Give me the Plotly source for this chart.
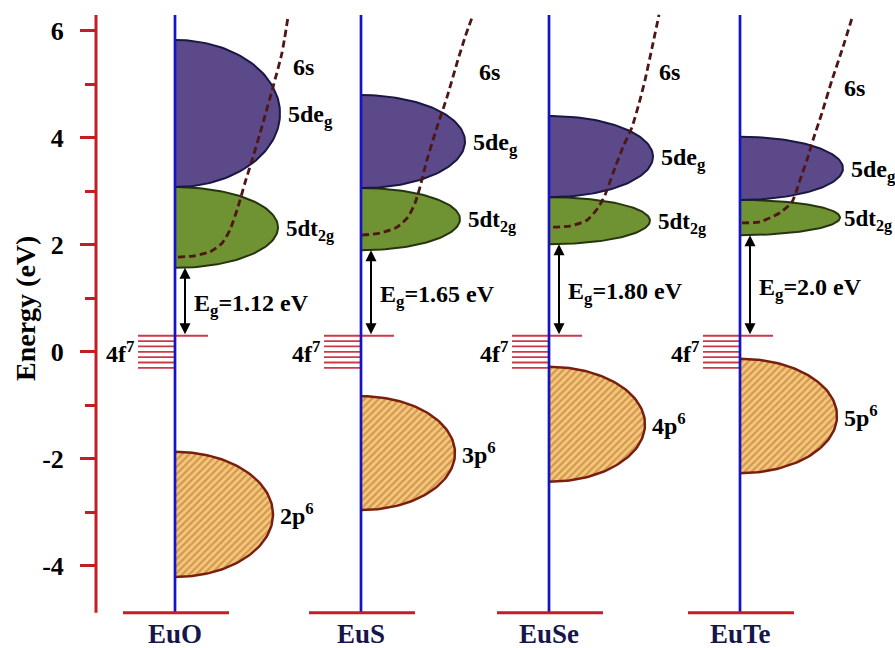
import numpy as np
import plotly.graph_objects as go

# ---------------- data (energies in eV) ----------------
compounds = ["EuO", "EuS", "EuSe", "EuTe"]
gap_values = ["1.12", "1.65", "1.80", "2.0"]
eg_top = [5.83, 4.80, 4.41, 4.02]          # top of 5d e_g band
eg_bottom = [3.08, 3.06, 2.89, 2.84]       # bottom of 5d e_g band = top of 5d t2g
t2g_bottom = [1.57, 1.90, 2.01, 2.18]      # conduction band minimum (5d t2g)
p_top = [-1.87, -0.83, -0.28, -0.13]       # anion p band top
p_bottom = [-4.21, -2.96, -2.43, -2.27]    # anion p band bottom
p_names = ["2p<sup>6</sup>", "3p<sup>6</sup>", "4p<sup>6</sup>", "5p<sup>6</sup>"]
f_levels = [0.3, 0.2, 0.1, 0.0, -0.1, -0.2, -0.3]   # 4f7 levels

# 6s band curves: horizontal offset from the column line and energy
s6_dx_EuO = [3, 18, 35, 47, 55, 63, 70, 78, 88, 98, 107, 113]
s6_E_EuO = [1.77, 1.79, 1.87, 2.03, 2.28, 2.71, 3.16, 3.64, 4.28, 4.95, 5.59, 6.26]
s6_dx_EuS = [1, 19, 36, 47, 54, 59, 66, 76, 86, 96, 104, 112]
s6_E_EuS = [2.18, 2.22, 2.33, 2.52, 2.78, 3.08, 3.59, 4.20, 4.76, 5.40, 5.88, 6.30]
s6_dx_EuSe = [4, 21, 38, 49, 56, 64, 74, 83, 91, 96, 103, 110]
s6_E_EuSe = [2.33, 2.35, 2.46, 2.69, 2.93, 3.34, 3.83, 4.20, 4.71, 5.08, 5.68, 6.30]
s6_dx_EuTe = [2, 20, 40, 52, 60, 67, 73, 82, 92, 103, 113]
s6_E_EuTe = [2.41, 2.43, 2.60, 2.80, 3.21, 3.59, 3.96, 4.47, 5.08, 5.70, 6.30]

energy_ticks = [-4, -2, 0, 2, 4, 6]
energy_tick_text = ["-4", "-2", "0", "2", "4", "6"]
energy_minor = [-3, -1, 1, 3, 5]

# ---------------- layout constants ----------------
W, H = 895, 648
E_TOP, E_BOT = 6.577, -5.538           # full-figure energy range
AX_TOP, AX_BOT = 6.296, -4.88          # extent of drawn axis / column lines
LABEL_E = -5.28
col_x = [175, 361, 549, 740]
eg_w = [105, 104, 104, 103]
t2g_w = [103, 99, 101, 100]
p_w = [98, 94, 96, 97]
s6_label_dx = [116, 116, 108, 102]
s6_label_E = [5.32, 5.23, 5.23, 4.93]
t2g_label_gap = [6, 6, 6, 2]

RED = "#c41e24"
BLUE = "#1414c4"
PURPLE = "#5b498a"
GREEN = "#6f9232"
FONT = "Liberation Serif"

s6_dx = [s6_dx_EuO, s6_dx_EuS, s6_dx_EuSe, s6_dx_EuTe]
s6_E = [s6_E_EuO, s6_E_EuS, s6_E_EuSe, s6_E_EuTe]


def half_ellipse(xc, top, bot, w, n=90):
    t = np.linspace(-np.pi / 2, np.pi / 2, n)
    yc = (top + bot) / 2
    h = (top - bot) / 2
    return xc + w * np.cos(t), yc + h * np.sin(t)


fig = go.Figure()
ann = []

for i, name in enumerate(compounds):
    xc = col_x[i]
    # valence p band (hatched)
    x, y = half_ellipse(xc, p_top[i], p_bottom[i], p_w[i])
    fig.add_trace(go.Scatter(x=x, y=y, mode="lines", fill="toself",
                             line=dict(color="#7a1f10", width=2.5),
                             fillpattern=dict(shape="/", size=5, solidity=0.45,
                                              fgcolor="#b06a22", bgcolor="#f4c77c"),
                             hoverinfo="skip", showlegend=False))
    # 5d t2g
    x, y = half_ellipse(xc, eg_bottom[i], t2g_bottom[i], t2g_w[i])
    fig.add_trace(go.Scatter(x=x, y=y, mode="lines", fill="toself", fillcolor=GREEN,
                             line=dict(color="#26340f", width=2),
                             hoverinfo="skip", showlegend=False))
    # 5d eg
    x, y = half_ellipse(xc, eg_top[i], eg_bottom[i], eg_w[i])
    fig.add_trace(go.Scatter(x=x, y=y, mode="lines", fill="toself", fillcolor=PURPLE,
                             line=dict(color="#1a1744", width=2),
                             hoverinfo="skip", showlegend=False))

for i, name in enumerate(compounds):
    xc = col_x[i]
    # 6s dashed curve
    fig.add_trace(go.Scatter(x=[xc + d for d in s6_dx[i]], y=s6_E[i], mode="lines",
                             line=dict(color="#4e1616", width=2.8, dash="7px,4px",
                                       shape="spline", smoothing=0.6),
                             hoverinfo="skip", showlegend=False))
    # 4f levels
    for k, e in enumerate(f_levels):
        x1 = xc + 33 if k == 0 else xc
        fig.add_trace(go.Scatter(x=[xc - 37, x1], y=[e, e], mode="lines",
                                 line=dict(color="#cc3a48", width=1.8),
                                 hoverinfo="skip", showlegend=False))
    # column line
    fig.add_trace(go.Scatter(x=[xc, xc], y=[AX_BOT, AX_TOP], mode="lines",
                             line=dict(color=BLUE, width=2.7),
                             hoverinfo="skip", showlegend=False))
    # baseline
    fig.add_trace(go.Scatter(x=[xc - 52, xc + 54], y=[AX_BOT, AX_BOT], mode="lines",
                             line=dict(color=RED, width=3),
                             hoverinfo="skip", showlegend=False))

    bold = dict(family=FONT, size=24, color="black", weight="bold")
    # band labels
    ann.append(dict(x=xc + s6_label_dx[i], y=s6_label_E[i], text="6s",
                    xanchor="left", yanchor="middle", showarrow=False, font=bold))
    ann.append(dict(x=xc + eg_w[i] + 6, y=(eg_top[i] + eg_bottom[i]) / 2 - 0.05,
                    text="5de<sub>g</sub>", xanchor="left", yanchor="middle",
                    showarrow=False, font=bold))
    ann.append(dict(x=xc + t2g_w[i] + t2g_label_gap[i],
                    y=(eg_bottom[i] + t2g_bottom[i]) / 2 - 0.05,
                    text="5dt<sub>2g</sub>", xanchor="left", yanchor="middle",
                    showarrow=False,
                    font=dict(family=FONT, size=23, color="black", weight="bold")))
    ann.append(dict(x=xc + p_w[i] + 5, y=(p_top[i] + p_bottom[i]) / 2,
                    text=p_names[i], xanchor="left", yanchor="middle",
                    showarrow=False, font=bold))
    ann.append(dict(x=xc - 39, y=0.0, text="4f<sup>7</sup>", xanchor="right",
                    yanchor="middle", showarrow=False, font=bold))
    # gap arrow
    ann.append(dict(x=xc + 10, y=t2g_bottom[i], ax=xc + 10, ay=f_levels[0],
                    axref="x", ayref="y", xref="x", yref="y", text="",
                    showarrow=True, arrowside="end+start", arrowhead=2,
                    arrowsize=1.1, arrowwidth=2, arrowcolor="black"))
    ann.append(dict(x=xc + 17, y=(t2g_bottom[i] + f_levels[0]) / 2 - 0.06,
                    text="E<sub>g</sub>=" + gap_values[i] + " eV",
                    xanchor="left", yanchor="middle", showarrow=False, font=bold))
    # compound label
    ann.append(dict(x=xc, y=LABEL_E, text=name, xanchor="center", yanchor="middle",
                    showarrow=False,
                    font=dict(family=FONT, size=27, color="#16164a", weight="bold")))

# y axis title
ann.append(dict(x=25, y=0.80, text="Energy (eV)", textangle=-90, xanchor="center",
                yanchor="middle", showarrow=False,
                font=dict(family=FONT, size=28, color="black", weight="bold")))

fig.update_layout(
    width=W, height=H,
    margin=dict(l=0, r=0, t=0, b=0),
    paper_bgcolor="white", plot_bgcolor="white",
    annotations=ann,
    shapes=[dict(type="line", xref="x", yref="y", x0=96, x1=96, y0=AX_BOT, y1=AX_TOP,
                 line=dict(color=RED, width=3), layer="above")],
    xaxis=dict(range=[0, W], visible=False, domain=[0, 1]),
    yaxis=dict(range=[E_BOT, E_TOP], anchor="free", position=96 / W,
               showline=False, showgrid=False, zeroline=False,
               tickmode="array", tickvals=energy_ticks, ticktext=energy_tick_text,
               ticks="outside", ticklen=16, tickwidth=3, tickcolor=RED,
               ticklabelstandoff=11,
               tickfont=dict(family=FONT, size=26, color="black", weight="bold"),
               minor=dict(tickmode="array", tickvals=energy_minor, ticks="outside",
                          ticklen=11, tickwidth=3, tickcolor=RED, showgrid=False),
               automargin=False),
)

fig.write_html("out.html")
